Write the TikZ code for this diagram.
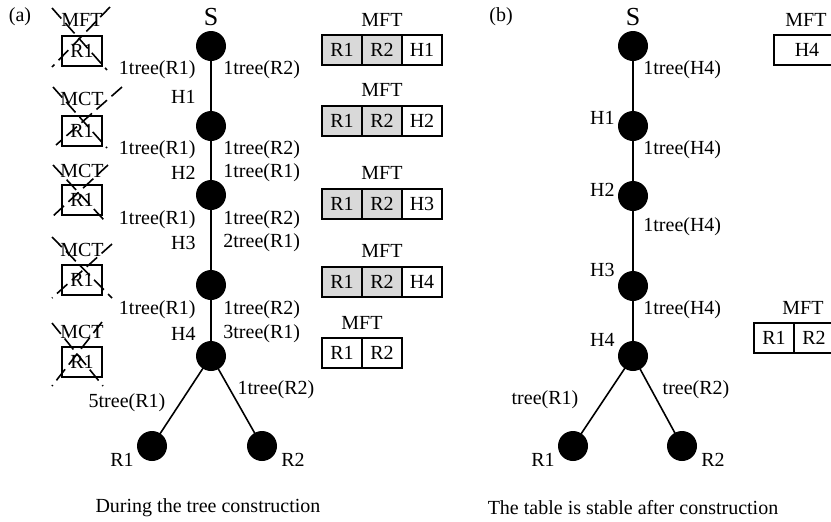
\documentclass[tikz,border=0pt]{standalone}
\usepackage{fontspec}
\setmainfont{Liberation Serif}
\begin{document}
\begin{tikzpicture}[x=0.5pt,y=-0.5pt,
  font=\fontsize{10pt}{12pt}\selectfont,
  dot/.style={circle,fill=black,draw=none,minimum size=15pt,inner sep=0pt},
  lbl/.style={inner sep=0pt},
  bigl/.style={inner sep=0pt,font=\fontsize{13pt}{15pt}\selectfont},
  cell/.style={draw,line width=1pt,minimum width=20pt,minimum height=15pt,inner sep=0pt},
  gcell/.style={cell,fill=black!15},
  wide/.style={cell,minimum width=33pt},
  edge/.style={line width=0.8pt},
  cross/.style={line width=0.8pt,dash pattern=on 7pt off 3pt}]
\useasboundingbox (0,0) rectangle (831,521);

% ---------------- panel (a) ----------------
\node[lbl] (ta) at (20,17) {(a)};
\node[bigl] (Sa) at (211,17) {S};
\node[dot] (nS) at (211,46) {};
\node[dot] (nH1) at (211,126) {};
\node[dot] (nH2) at (211,195) {};
\node[dot] (nH3) at (211,285) {};
\node[dot] (nH4) at (211,356) {};
\node[dot] (nR1) at (152,446) {};
\node[dot] (nR2) at (262,446) {};
\draw[edge] (nS.center) -- (nH1.center) -- (nH2.center) -- (nH3.center) -- (nH4.center);
\draw[edge] (nH4.center) -- (nR1.center);
\draw[edge] (nH4.center) -- (nR2.center);

\node[lbl,anchor=east] (a1l) at (196,70) {1tree(R1)};
\node[lbl,anchor=west] (a1r) at (223,70) {1tree(R2)};
\node[lbl,anchor=east] (aH1) at (196,97) {H1};
\node[lbl,anchor=east] (a2l) at (196,150) {1tree(R1)};
\node[lbl,anchor=west] (a2r) at (223,150) {1tree(R2)};
\node[lbl,anchor=east] (aH2) at (196,173) {H2};
\node[lbl,anchor=west] (a2s) at (223,173) {1tree(R1)};
\node[lbl,anchor=east] (a3l) at (196,220) {1tree(R1)};
\node[lbl,anchor=west] (a3r) at (223,220) {1tree(R2)};
\node[lbl,anchor=east] (aH3) at (196,243) {H3};
\node[lbl,anchor=west] (a3s) at (223,243) {2tree(R1)};
\node[lbl,anchor=east] (a4l) at (196,310) {1tree(R1)};
\node[lbl,anchor=west] (a4r) at (223,310) {1tree(R2)};
\node[lbl,anchor=east] (aH4) at (196,334) {H4};
\node[lbl,anchor=west] (a4s) at (223,334) {3tree(R1)};
\node[lbl] (a5r) at (276,390) {1tree(R2)};
\node[lbl] (a5l) at (127,403) {5tree(R1)};
\node[lbl] (aR1) at (122,460) {R1};
\node[lbl] (aR2) at (293,460) {R2};
\node[lbl] (capa) at (208,508) {During the tree construction};

% crossed-out tables on the left
\node[lbl] (x1t) at (82,20) {MFT};
\node[cell,minimum width=20pt] (x1b) at (82,51) {R1};
\draw[cross] (52,8) -- (107,70);
\draw[cross] (110,7) -- (52,67);
\node[lbl] (x2t) at (82,99) {MCT};
\node[cell] (x2b) at (82,131) {R1};
\draw[cross] (53,87) -- (107,148);
\draw[cross] (122,87) -- (56,145);
\node[lbl] (x3t) at (82,171) {MCT};
\node[cell] (x3b) at (82,200) {R1};
\draw[cross] (53,165) -- (104,220);
\draw[cross] (108,165) -- (52,217);
\node[lbl] (x4t) at (82,250) {MCT};
\node[cell] (x4b) at (82,280) {R1};
\draw[cross] (52,237) -- (112,298);
\draw[cross] (112,244) -- (52,298);
\node[lbl] (x5t) at (82,332) {MCT};
\node[cell] (x5b) at (82,362) {R1};
\draw[cross] (52,323) -- (103,386);
\draw[cross] (102,322) -- (52,386);

% MFT tables (a)
\node[lbl] (m1) at (382,20) {MFT};
\node[gcell] (m1a) at (342,50) {R1};
\node[gcell] (m1b) at (382,50) {R2};
\node[cell] (m1c) at (422,50) {H1};
\node[lbl] (m2) at (382,90) {MFT};
\node[gcell] (m2a) at (342,121) {R1};
\node[gcell] (m2b) at (382,121) {R2};
\node[cell] (m2c) at (422,121) {H2};
\node[lbl] (m3) at (382,173) {MFT};
\node[gcell] (m3a) at (342,204) {R1};
\node[gcell] (m3b) at (382,204) {R2};
\node[cell] (m3c) at (422,204) {H3};
\node[lbl] (m4) at (382,251) {MFT};
\node[gcell] (m4a) at (342,282) {R1};
\node[gcell] (m4b) at (382,282) {R2};
\node[cell] (m4c) at (422,282) {H4};
\node[lbl] (m5) at (362,323) {MFT};
\node[cell] (m5a) at (342,353) {R1};
\node[cell] (m5b) at (382,353) {R2};

% ---------------- panel (b) ----------------
\node[lbl] (tb) at (501,17) {(b)};
\node[bigl] (Sb) at (633,17) {S};
\node[dot] (bS) at (633,46) {};
\node[dot] (bH1) at (633,126) {};
\node[dot] (bH2) at (633,196) {};
\node[dot] (bH3) at (633,286) {};
\node[dot] (bH4) at (633,356) {};
\node[dot] (bR1) at (573,446) {};
\node[dot] (bR2) at (682,446) {};
\draw[edge] (bS.center) -- (bH1.center) -- (bH2.center) -- (bH3.center) -- (bH4.center);
\draw[edge] (bH4.center) -- (bR1.center);
\draw[edge] (bH4.center) -- (bR2.center);

\node[lbl,anchor=west] (b1r) at (643,70) {1tree(H4)};
\node[lbl,anchor=west] (b2r) at (643,150) {1tree(H4)};
\node[lbl,anchor=west] (b3r) at (643,227) {1tree(H4)};
\node[lbl,anchor=west] (b4r) at (643,310) {1tree(H4)};
\node[lbl,anchor=east] (bH1l) at (615,118) {H1};
\node[lbl,anchor=east] (bH2l) at (615,190) {H2};
\node[lbl,anchor=east] (bH3l) at (615,270) {H3};
\node[lbl,anchor=east] (bH4l) at (615,340) {H4};
\node[lbl] (b5l) at (545,400) {tree(R1)};
\node[lbl] (b5r) at (696,390) {tree(R2)};
\node[lbl] (bR1l) at (543,460) {R1};
\node[lbl] (bR2l) at (713,460) {R2};
\node[lbl] (capb) at (633,508) {The table is stable after construction};

\node[lbl] (bm1) at (806,20) {MFT};
\node[wide] (bm1a) at (807,50) {H4};
\node[lbl] (bm2) at (803,308) {MFT};
\node[cell] (bm2a) at (774,338) {R1};
\node[cell] (bm2b) at (814,338) {R2};
\end{tikzpicture}
\end{document}
